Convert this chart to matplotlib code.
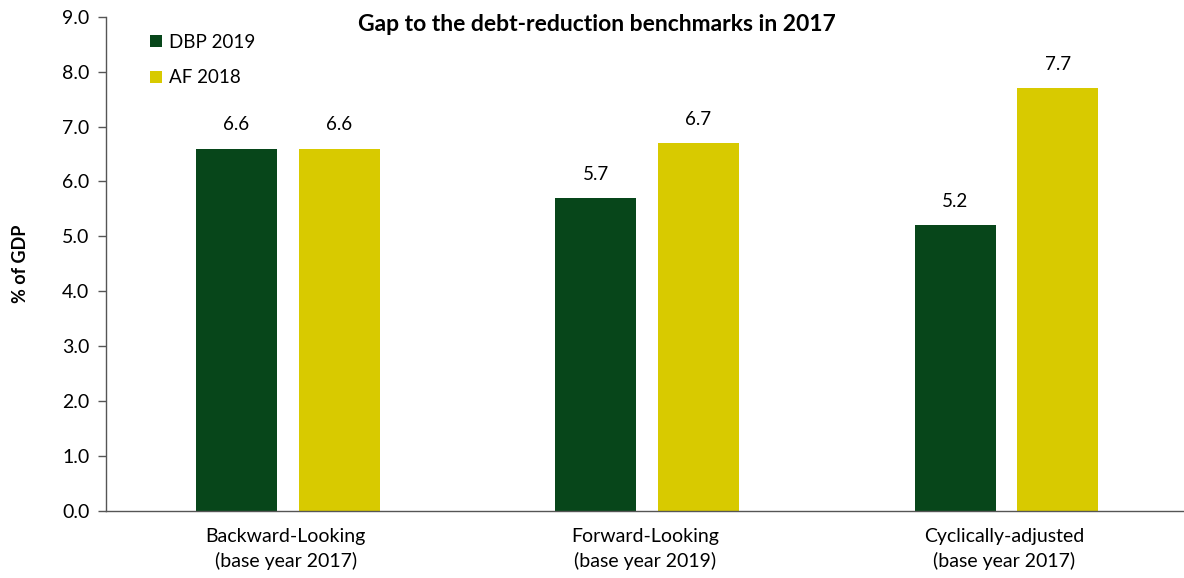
import numpy as np
import matplotlib.pyplot as plt

plt.rcParams['font.family'] = ['Lato', 'DejaVu Sans']

categories = ['Backward-Looking\n(base year 2017)',
              'Forward-Looking\n(base year 2019)',
              'Cyclically-adjusted\n(base year 2017)']
dbp_2019 = [6.6, 5.7, 5.2]
af_2018 = [6.6, 6.7, 7.7]

green = '#07461a'
yellow = '#d8ca00'

fig = plt.figure(figsize=(11.84, 5.78), dpi=100)
ax = fig.add_axes([0.0895, 0.116, 0.9105, 0.855])

x = np.arange(len(categories))
w = 0.225
off = 0.143
b1 = ax.bar(x - off + 0.006, dbp_2019, w, color=green, label='DBP 2019')
b2 = ax.bar(x + off + 0.006, af_2018, w, color=yellow, label='AF 2018')

for bars, vals in ((b1, dbp_2019), (b2, af_2018)):
    for b, v in zip(bars, vals):
        ax.text(b.get_x() + b.get_width() / 2, v + 0.28, f'{v:.1f}',
                ha='center', va='bottom', fontsize=13.5)

ax.set_xlim(-0.5, 2.5)
ax.set_ylim(0, 9)
ticks = np.arange(0, 9.1, 1.0)
ax.set_yticks(ticks)
ax.set_yticklabels([f'{t:.1f}' for t in ticks], fontsize=14)
ax.set_xticks(x)
ax.set_xticklabels(categories, fontsize=14, linespacing=1.5)
ax.tick_params(axis='x', length=0, pad=12)
ax.tick_params(axis='y', length=6, width=1, color='#555555', pad=6)

for s in ('top', 'right'):
    ax.spines[s].set_visible(False)
for s in ('left', 'bottom'):
    ax.spines[s].set_color('#555555')
    ax.spines[s].set_linewidth(1)

ax.set_ylabel('% of GDP', fontsize=13, fontweight='bold', labelpad=24)

fig.text(0.504, 0.957, 'Gap to the debt-reduction benchmarks in 2017',
         ha='center', va='center', fontsize=16.5, fontweight='bold')

ax.legend(loc='upper left', bbox_to_anchor=(0.025, 1.0), frameon=False,
          fontsize=13.5, handlelength=0.65, handleheight=0.65,
          handletextpad=0.35, labelspacing=1.0)

fig.savefig('out.png', dpi=100)
